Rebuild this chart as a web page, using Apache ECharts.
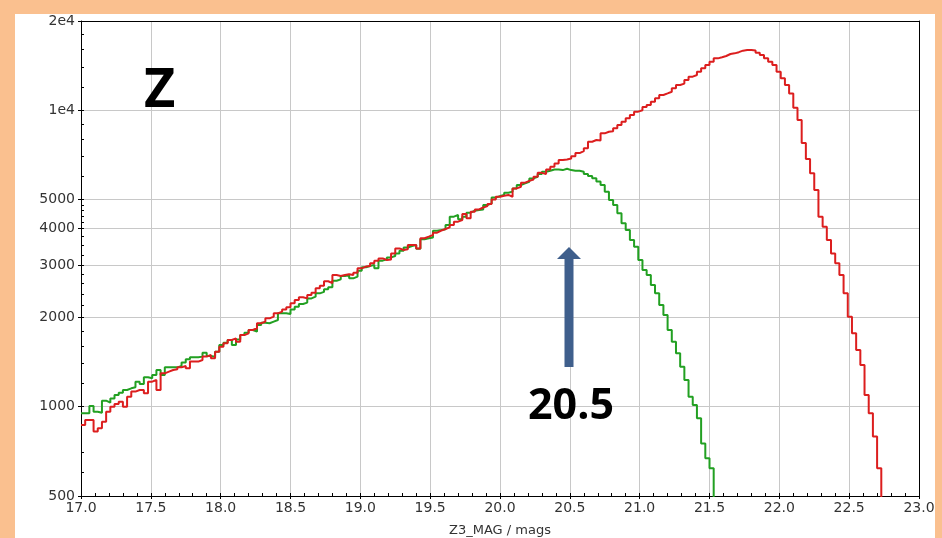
<!DOCTYPE html>
<html><head><meta charset="utf-8">
<script src="https://cdn.jsdelivr.net/npm/echarts@6/dist/echarts.min.js"></script>
<style>
html,body{margin:0;padding:0;}
#wrap{position:relative;width:942px;height:538px;background:#FAC08F;overflow:hidden;}
#chart{position:absolute;left:15px;top:14px;width:920px;height:524px;background:#fff;}
</style></head><body>
<div id="wrap"><div id="chart"></div></div>
<script>
// ---- data (histogram, bins of 0.03 mag starting at 17.0) ----
const binStart = 17.0;
const binWidth = 0.03;
const redCounts = [
868,902,902,825,846,890,962,1000,1022,1040,
1000,1081,1125,1139,1139,1110,1215,1231,1139,1296,
1313,1330,1337,1358,1372,1348,1420,1420,1438,1476,
1495,1457,1534,1595,1636,1679,1700,1657,1745,1768,
1815,1840,1912,1937,1987,2013,2066,2093,2130,2165,
2233,2291,2340,2320,2380,2425,2510,2560,2650,2610,
2780,2760,2780,2800,2780,2830,2930,2970,2985,3046,
3110,3165,3125,3140,3290,3420,3378,3395,3510,3510,
3420,3700,3746,3795,3865,3925,3975,4025,4100,4210,
4265,4470,4320,4550,4630,4700,4750,4825,5000,5109,
5150,5180,5109,5450,5520,5700,5780,5840,5965,6150,
6090,6315,6450,6616,6790,6825,6880,7000,7170,7280,
7440,7833,7938,7900,8360,8466,8500,8700,8920,9150,
9392,9638,9893,10000,10250,10416,10690,10970,11255,11400,
11550,11853,12163,12300,12647,12978,13148,13490,13848,14210,
14585,14965,15100,15240,15475,15558,15700,15885,15966,15966,
15900,15640,15360,14965,14585,14210,13490,12815,12163,11400,
10200,9270,7750,6850,6125,5385,4375,4050,3650,3290,
3050,2780,2415,2012,1770,1553,1383,1095,951,793,
620
];
const greenCounts = [
950,950,1005,962,955,1048,1032,1067,1095,1115,
1139,1154,1163,1215,1193,1257,1247,1280,1330,1280,
1358,1358,1358,1372,1409,1445,1468,1468,1476,1522,
1484,1476,1534,1615,1645,1679,1615,1687,1745,1777,
1815,1792,1887,1920,1912,1937,1962,2066,2066,2055,
2130,2176,2222,2245,2320,2351,2412,2440,2490,2530,
2660,2690,2760,2780,2710,2746,2877,2955,2985,3010,
2930,3110,3140,3190,3225,3290,3360,3445,3485,3510,
3412,3670,3700,3725,3925,3944,3965,4100,4375,4435,
4290,4375,4515,4585,4607,4630,4790,4851,5080,5135,
5180,5270,5315,5450,5595,5666,5740,5890,5965,6090,
6200,6250,6315,6315,6283,6350,6283,6250,6250,6200,
6100,6000,5900,5750,5600,5315,4980,4790,4490,4156,
3945,3650,3466,3126,2890,2780,2575,2415,2204,2038,
1815,1656,1514,1365,1231,1081,1014,914,752,670,
620
];
const yMajorTicks = [500,1000,2000,3000,4000,5000,10000,20000];
const yMajorLabels = ['500','1000','2000','3000','4000','5000','1e4','2e4'];
const yMinorTicks = [600,700,1200,1400,1600,1800,2200,2400,2600,2800,3250,3500,3750,4200,4400,4600,4800,6000,7000,8000,9000,12000,14000,16000,18000];
const xMin = 17, xMax = 23, xInterval = 0.5, xMinorInterval = 0.1;
const yMin = 500, yMax = 20000;
const xTitle = 'Z3_MAG / mags';

function toSeries(counts){
  const pts = counts.map((c,i)=>[+(binStart + i*binWidth).toFixed(3), Math.log10(c)]);
  pts.push([+(binStart + counts.length*binWidth).toFixed(3), 0]); // drop below axis (clipped)
  return pts;
}
const lg = v => Math.log10(v);
const labelFont = {fontFamily:'DejaVu Sans', fontSize:14, color:'#333'};

const chart = echarts.init(document.getElementById('chart'), null, {renderer:'canvas'});
const gridBox = {left:66, top:7, right:16, bottom:42, outerBoundsMode:'none', containLabel:false};
chart.setOption({
  animation:false,
  backgroundColor:'#fff',
  grid:[
    Object.assign({show:false}, gridBox),
    Object.assign({show:false}, gridBox)
  ],
  xAxis:[
    {type:'value', gridIndex:0, min:xMin, max:xMax, interval:xInterval,
     axisLine:{show:true, lineStyle:{color:'#000', width:1}},
     axisTick:{show:true, inside:false, length:3, lineStyle:{color:'#000'}},
     axisLabel:Object.assign({margin:5, formatter:v=>v.toFixed(1)}, labelFont),
     splitLine:{show:true, showMinLine:false, showMaxLine:false, lineStyle:{color:'#c8c8c8', width:1}},
     name:xTitle, nameLocation:'middle', nameGap:28,
     nameTextStyle:{fontFamily:'DejaVu Sans', fontSize:13, color:'#333'}},
    {type:'value', gridIndex:1, min:xMin, max:xMax, interval:xMinorInterval, position:'bottom',
     axisLine:{show:false}, axisLabel:{show:false}, splitLine:{show:false},
     axisTick:{show:true, inside:true, length:3, lineStyle:{color:'#000'}}},
    {type:'value', gridIndex:1, min:xMin, max:xMax, position:'top',
     axisLine:{show:true, lineStyle:{color:'#000', width:1}}, axisLabel:{show:false},
     axisTick:{show:false}, splitLine:{show:false}}
  ],
  yAxis:[
    {type:'value', gridIndex:0, min:lg(yMin), max:lg(yMax),
     axisLine:{show:true, lineStyle:{color:'#000', width:1}},
     axisTick:{show:true, inside:false, length:3, customValues:yMajorTicks.map(lg), lineStyle:{color:'#000'}},
     axisLabel:Object.assign({margin:6, customValues:yMajorTicks.map(lg),
       formatter:v=>{const n=Math.round(Math.pow(10,v)); const k=yMajorTicks.indexOf(n); return k>=0?yMajorLabels[k]:'';}}, labelFont),
     splitLine:{show:true, showMinLine:false, showMaxLine:false, lineStyle:{color:'#c8c8c8', width:1}}},
    {type:'value', gridIndex:1, min:lg(yMin), max:lg(yMax), position:'left',
     axisLine:{show:false}, axisLabel:{show:false}, splitLine:{show:false},
     axisTick:{show:true, inside:true, length:3, customValues:yMajorTicks.concat(yMinorTicks).map(lg), lineStyle:{color:'#000'}}},
    {type:'value', gridIndex:1, min:lg(yMin), max:lg(yMax), position:'right',
     axisLine:{show:true, lineStyle:{color:'#000', width:1}}, axisLabel:{show:false},
     axisTick:{show:false}, splitLine:{show:false}}
  ],
  series:[
    {name:'green', type:'line', step:'end', xAxisIndex:0, yAxisIndex:0, data:toSeries(greenCounts),
     showSymbol:false, clip:true, lineStyle:{color:'#22a022', width:2}, z:3},
    {name:'red', type:'line', step:'end', xAxisIndex:0, yAxisIndex:0, data:toSeries(redCounts),
     showSymbol:false, clip:true, lineStyle:{color:'#dc1e1e', width:2}, z:4}
  ],
  graphic:[
    {type:'text', left:129, top:51, z:10,
     style:{text:'Z', font:'bold 54px "Open Sans"', fill:'#000'}},
    {type:'text', x:513, y:393, z:10,
     style:{text:'20.5', font:'bold 43px "Open Sans"', fill:'#000', textVerticalAlign:'middle'}},
    {type:'polygon', z:10, shape:{points:[[554,233],[542,245],[566,245]]}, style:{fill:'#3f5f8c'}},
    {type:'rect', z:10, shape:{x:549.5, y:244, width:9, height:109}, style:{fill:'#3f5f8c'}}
  ]
});
</script>
</body></html>
